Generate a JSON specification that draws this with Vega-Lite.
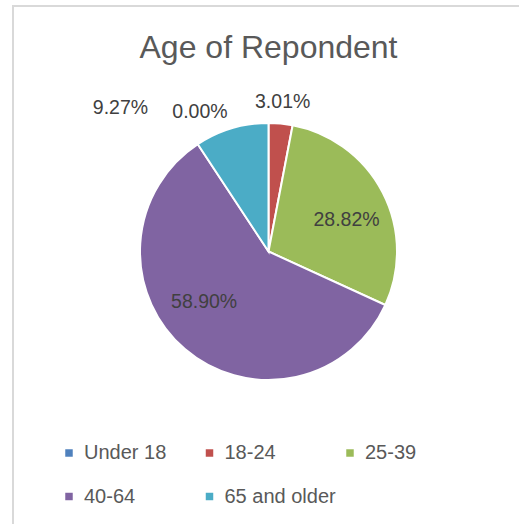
{
  "$schema": "https://vega.github.io/schema/vega-lite/v6.json",
  "autosize": "none",
  "width": 511,
  "height": 530,
  "padding": {"left": 13, "top": 6, "right": 0, "bottom": 0},
  "background": "white",
  "view": {"stroke": "#d9d9d9", "strokeWidth": 2},
  "title": {"text": "Age of Repondent", "font": "Liberation Sans", "fontSize": 32, "fontWeight": "normal", "color": "#595959", "anchor": "middle", "offset": -59},
  "data": {"values": [
    {"age": "Under 18", "pct": 0, "k": 1},
    {"age": "18-24", "pct": 0.0301, "k": 2},
    {"age": "25-39", "pct": 0.2882, "k": 3},
    {"age": "40-64", "pct": 0.589, "k": 4},
    {"age": "65 and older", "pct": 0.0927, "k": 5}
  ]},
  "encoding": {
    "theta": {"field": "pct", "type": "quantitative", "stack": true},
    "order": {"field": "k", "type": "quantitative"}
  },
  "layer": [
    {
      "mark": {"type": "arc", "outerRadius": 128.5, "stroke": "white", "strokeWidth": 2, "yOffset": -19.5},
      "encoding": {
        "color": {
          "field": "age", "type": "nominal",
          "scale": {"domain": ["Under 18", "18-24", "25-39", "40-64", "65 and older"], "range": ["#4f81bd", "#c0504d", "#9bbb59", "#8064a2", "#4bacc6"]},
          "legend": {"title": null, "orient": "none", "direction": "horizontal", "legendX": 46, "legendY": 437, "columns": 3, "gridAlign": "all", "columnPadding": 3.5, "rowPadding": 23.5, "symbolType": "square", "symbolSize": 56, "symbolStrokeWidth": 0, "labelFont": "Liberation Sans", "labelFontSize": 20, "labelColor": "#595959", "labelOffset": 5, "padding": 0}
        }
      }
    },
    {
      "mark": {"type": "text", "radius": 150, "font": "Liberation Sans", "fontSize": 19.5, "fill": "#404040", "yOffset": -19.5},
      "encoding": {"text": {"field": "pct", "type": "quantitative", "format": ".2%"}, "opacity": {"condition": {"test": "datum.age === '18-24'", "value": 1}, "value": 0}}
    },
    {
      "mark": {"type": "text", "radius": 84, "font": "Liberation Sans", "fontSize": 19.5, "fill": "#404040", "yOffset": -19.5, "dx": 3.4, "dy": 7},
      "encoding": {"text": {"field": "pct", "type": "quantitative", "format": ".2%"}, "opacity": {"condition": {"test": "datum.age === '25-39'", "value": 1}, "value": 0}}
    },
    {
      "mark": {"type": "text", "radius": 82, "font": "Liberation Sans", "fontSize": 19.5, "fill": "#404040", "yOffset": -19.5, "dx": -11, "dy": -11.7},
      "encoding": {"text": {"field": "pct", "type": "quantitative", "format": ".2%"}, "opacity": {"condition": {"test": "datum.age === '40-64'", "value": 1}, "value": 0}}
    },
    {
      "mark": {"type": "text", "radius": 150, "font": "Liberation Sans", "fontSize": 19.5, "fill": "#404040", "yOffset": -19.5, "dx": -105},
      "encoding": {"text": {"field": "pct", "type": "quantitative", "format": ".2%"}, "opacity": {"condition": {"test": "datum.age === '65 and older'", "value": 1}, "value": 0}}
    },
    {
      "mark": {"type": "text", "radius": 140, "font": "Liberation Sans", "fontSize": 19.5, "fill": "#404040", "yOffset": -19.5, "dx": -68.5},
      "encoding": {"text": {"field": "pct", "type": "quantitative", "format": ".2%"}, "opacity": {"condition": {"test": "datum.age === 'Under 18'", "value": 1}, "value": 0}}
    }
  ]
}
